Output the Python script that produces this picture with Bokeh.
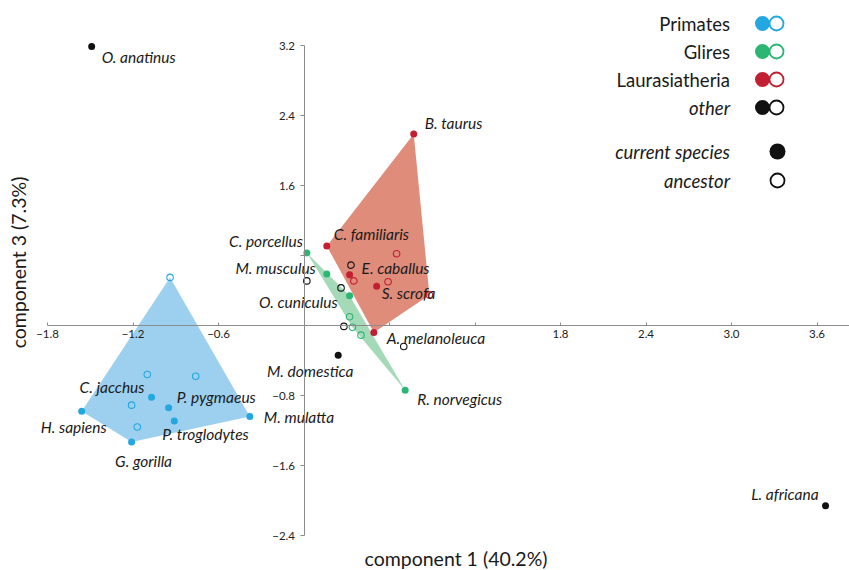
import numpy as np
from bokeh.plotting import figure
from bokeh.models import LinearAxis, FixedTicker, ColumnDataSource, Range1d
from bokeh.core.properties import value
from bokeh.embed import file_html
from bokeh.resources import INLINE

# ---------------- data ----------------
groups = ["Primates", "Glires", "Laurasiatheria", "other"]

species = ["H. sapiens", "G. gorilla", "C. jacchus", "P. pygmaeus", "P. troglodytes", "M. mulatta",
           "C. porcellus", "M. musculus", "O. cuniculus", "R. norvegicus",
           "B. taurus", "C. familiaris", "E. caballus", "S. scrofa", "A. melanoleuca",
           "O. anatinus", "M. domestica", "L. africana"]
species_group = ["Primates"] * 6 + ["Glires"] * 4 + ["Laurasiatheria"] * 5 + ["other"] * 3
species_pc1 = [-1.56, -1.21, -1.07, -0.95, -0.91, -0.38,
               0.02, 0.16, 0.32, 0.71,
               0.77, 0.16, 0.32, 0.51, 0.49,
               -1.49, 0.24, 3.66]
species_pc3 = [-0.98, -1.33, -0.82, -0.94, -1.09, -1.04,
               0.83, 0.59, 0.34, -0.74,
               2.19, 0.91, 0.58, 0.45, -0.08,
               3.19, -0.34, -2.06]

ancestor_group = ["Primates"] * 5 + ["Glires"] * 3 + ["Laurasiatheria"] * 4 + ["other"] * 5
ancestor_pc1 = [-0.94, -1.10, -0.76, -1.21, -1.17,
                0.32, 0.34, 0.40,
                0.65, 0.35, 0.59, 0.88,
                0.33, 0.02, 0.26, 0.28, 0.70]
ancestor_pc3 = [0.55, -0.56, -0.58, -0.91, -1.16,
                0.10, -0.02, -0.11,
                0.82, 0.51, 0.50, 0.35,
                0.69, 0.51, 0.43, -0.01, -0.24]

x_ticks = [-1.8, -1.2, -0.6, 1.8, 2.4, 3.0, 3.6]
x_minor = [0.6, 1.2]
y_ticks = [3.2, 2.4, 1.6, -0.8, -1.6, -2.4]
y_minor = [0.8]

# ---------------- styles / layout ----------------
point_color = {"Primates": "#22a7e0", "Glires": "#2bb673", "Laurasiatheria": "#c21f32", "other": "#111111"}
hull_color = {"Primates": "#9dd0ef", "Glires": "#a5dab8", "Laurasiatheria": "#df8c7b"}

# label offsets in pixels (dx, dy downward, align)
label_layout = {
    "O. anatinus": (10, 11, "left"), "B. taurus": (11, -11, "left"),
    "C. familiaris": (7, -12, "left"), "C. porcellus": (-4, -12, "right"),
    "M. musculus": (-11, -6, "right"), "E. caballus": (12, -7, "left"),
    "O. cuniculus": (-12, 6, "right"), "S. scrofa": (5, 7, "left"),
    "A. melanoleuca": (13, 5, "left"), "M. domestica": (-28, 16, "center"),
    "R. norvegicus": (12, 9, "left"), "C. jacchus": (-7, -10, "right"),
    "P. pygmaeus": (8, -11, "left"), "H. sapiens": (-8, 16, "center"),
    "M. mulatta": (14, 0, "left"), "P. troglodytes": (-12, 13, "left"),
    "G. gorilla": (12, 19, "center"), "L. africana": (-7, -12, "right"),
}

FONT = "Lato"
W, H = 849, 570
X0_PX, Y0_PX = 303.5, 325.0      # canvas position of the origin
SX, SY = 142.5, 87.5             # px per data unit
X0, X1 = -X0_PX / SX, (W - X0_PX) / SX
Y1, Y0 = Y0_PX / SY, (Y0_PX - H) / SY


def px(xp, yp):
    """canvas pixel -> data coordinates (for annotation placement)"""
    return ((xp - X0_PX) / SX, (Y0_PX - yp) / SY)


def hull(pts):
    pts = sorted(set(pts))
    if len(pts) < 3:
        return pts
    def cross(o, a, b):
        return (a[0] - o[0]) * (b[1] - o[1]) - (a[1] - o[1]) * (b[0] - o[0])
    lower, upper = [], []
    for q in pts:
        while len(lower) >= 2 and cross(lower[-2], lower[-1], q) <= 0:
            lower.pop()
        lower.append(q)
    for q in reversed(pts):
        while len(upper) >= 2 and cross(upper[-2], upper[-1], q) <= 0:
            upper.pop()
        upper.append(q)
    return lower[:-1] + upper[:-1]


p = figure(width=W, height=H, x_range=Range1d(X0, X1), y_range=Range1d(Y0, Y1),
           x_axis_type=None, y_axis_type=None, output_backend="svg",
           toolbar_location=None, min_border=0, outline_line_color=None)

# hulls
for g in ["Primates", "Glires", "Laurasiatheria"]:
    pts = [(x, y) for x, y, gg in zip(species_pc1, species_pc3, species_group) if gg == g]
    pts += [(x, y) for x, y, gg in zip(ancestor_pc1, ancestor_pc3, ancestor_group) if gg == g]
    h = hull(pts)
    p.patch([q[0] for q in h], [q[1] for q in h], fill_color=hull_color[g], line_color=None)

# axes crossing at origin
xaxis = LinearAxis(fixed_location=0, bounds=(-1.8, X1),
                   ticker=FixedTicker(ticks=x_ticks, minor_ticks=x_minor),
                   major_label_overrides={t: f"{t:.1f}".replace("-", "\u2212") for t in x_ticks})
yaxis = LinearAxis(fixed_location=0, bounds=(-2.4, 3.2),
                   ticker=FixedTicker(ticks=y_ticks, minor_ticks=y_minor),
                   major_label_overrides={t: f"{t:.1f}".replace("-", "\u2212") for t in y_ticks})
for ax in (xaxis, yaxis):
    ax.axis_line_color = "#8c8c8c"
    ax.major_tick_line_color = "#8c8c8c"
    ax.minor_tick_line_color = "#8c8c8c"
    ax.major_label_text_font = FONT
    ax.major_label_text_font_size = "11.5px"
    ax.major_label_text_color = "#222222"
xaxis.major_tick_in, xaxis.major_tick_out = 3, 0
xaxis.minor_tick_in, xaxis.minor_tick_out = 3, 0
xaxis.major_label_standoff = 4
yaxis.major_tick_in, yaxis.major_tick_out = 0, 4
yaxis.minor_tick_in, yaxis.minor_tick_out = 0, 4
yaxis.major_label_standoff = 5
p.add_layout(xaxis, "below")
p.add_layout(yaxis, "left")

# points
anc = ColumnDataSource(dict(x=ancestor_pc1, y=ancestor_pc3,
                            c=[point_color[g] for g in ancestor_group]))
p.scatter("x", "y", source=anc, size=6.5, fill_color=None, line_color="c", line_width=1.1)
cur = ColumnDataSource(dict(x=species_pc1, y=species_pc3,
                            c=[point_color[g] for g in species_group]))
p.scatter("x", "y", source=cur, size=7, fill_color="c", line_color=None)

# species labels
lab = ColumnDataSource(dict(x=species_pc1, y=species_pc3, text=species,
                            dx=[label_layout[s][0] for s in species],
                            dy=[label_layout[s][1] for s in species],
                            al=[label_layout[s][2] for s in species]))
p.text("x", "y", text="text", source=lab, x_offset="dx", y_offset="dy", text_align="al",
       text_baseline="middle", text_font=value(FONT), text_font_style="italic",
       text_font_size="15.5px", text_color="#1a1a1a")

# axis titles
tx, ty = px(455.5, 558)
p.text([tx], [ty], text=["component 1 (40.2%)"], text_align="center", text_baseline="middle",
       text_font=value(FONT), text_font_size="19.5px", text_color="#1a1a1a")
tx, ty = px(18, 262)
p.text([tx], [ty], text=["component 3 (7.3%)"], angle=np.pi / 2, text_align="center",
       text_baseline="middle", text_font=value(FONT), text_font_size="19.5px", text_color="#1a1a1a")

# legend
leg_y = [23, 51, 79, 107]
leg_style = ["normal", "normal", "normal", "italic"]
for g, yy, st in zip(groups, leg_y, leg_style):
    lx, ly = px(729.5, yy)
    p.text([lx], [ly], text=[g], text_align="right", text_baseline="middle",
           text_font=value(FONT), text_font_style=st, text_font_size="18.5px", text_color="#1a1a1a")
    fx, fy = px(762, yy)
    p.scatter([fx], [fy], size=15, fill_color=point_color[g], line_color=None)
    ox, oy = px(776, yy)
    p.scatter([ox], [oy], size=14, fill_color=None, line_color=point_color[g], line_width=1.8)

for t, yy, filled in [("current species", 151, True), ("ancestor", 180, False)]:
    lx, ly = px(729.5, yy)
    p.text([lx], [ly], text=[t], text_align="right", text_baseline="middle",
           text_font=value(FONT), text_font_style="italic", text_font_size="18.5px", text_color="#1a1a1a")
    cx, cy = px(777, yy)
    if filled:
        p.scatter([cx], [cy], size=16, fill_color="#111111", line_color=None)
    else:
        p.scatter([cx], [cy], size=14, fill_color=None, line_color="#111111", line_width=1.8)

open("out.html", "w").write(file_html(p, INLINE))
